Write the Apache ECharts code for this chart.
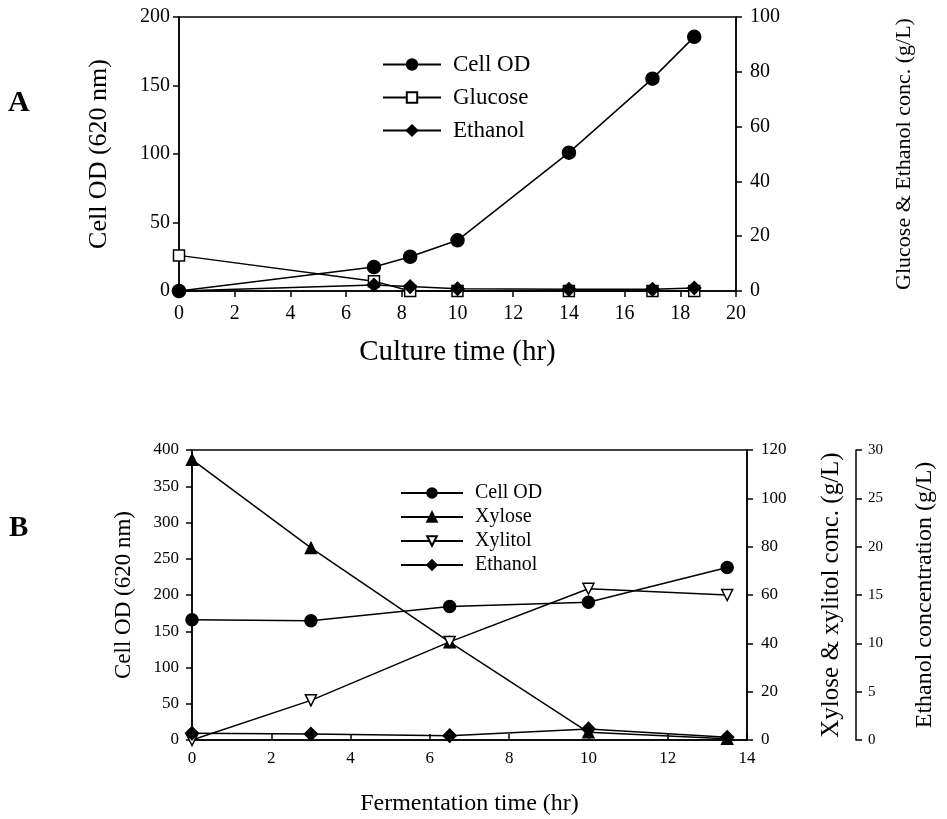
<!DOCTYPE html>
<html><head><meta charset="utf-8">
<script src="https://cdn.jsdelivr.net/npm/echarts@6/dist/echarts.min.js"></script>
<style>html,body{margin:0;padding:0;background:#fff}#c{width:947px;height:819px}</style>
</head><body><div id="c"></div>
<script>
// Panel A data
const aTime = [0, 7, 8.3, 10, 14, 17, 18.5];
const aCellOD = [0, 17.5, 25, 37, 101, 155, 185.5];
const aGlucose = [13, 3.6, 0, 0, 0, 0, 0];
const aEthanol = [0, 2.2, 1.6, 0.8, 0.6, 0.6, 1.1];
// Panel B data
const bTime = [0, 3, 6.5, 10, 13.5];
const bCellOD = [166, 164.5, 184, 190, 238];
const bXylose = [116, 79.5, 40.5, 3.2, 0.5];
const bXylitol = [0, 16.4, 40.6, 62.6, 60];
const bEthanol = [0.7, 0.62, 0.45, 1.15, 0.28];
// tick labels
const aXTicks = [0, 2, 4, 6, 8, 10, 12, 14, 16, 18, 20];
const aLeftTicks = [0, 50, 100, 150, 200];
const aRightTicks = [0, 20, 40, 60, 80, 100];
const bXTicks = [0, 2, 4, 6, 8, 10, 12, 14];
const bLeftTicks = [0, 50, 100, 150, 200, 250, 300, 350, 400];
const bRightTicks = [0, 20, 40, 60, 80, 100, 120];
const bEthTicks = [0, 5, 10, 15, 20, 25, 30];

const F = '"Liberation Serif", "Times New Roman", serif';
const BLK = '#000';

function axis(ticks, o) {
  return Object.assign({
    type: 'value',
    min: ticks[0], max: ticks[ticks.length - 1], interval: ticks[1] - ticks[0],
    splitLine: { show: false },
    axisLine: { show: true, onZero: false, lineStyle: { color: BLK, width: 1.5 } },
    axisTick: { show: true, inside: !!o.tickInside, length: 6, lineStyle: { color: BLK, width: 1.5 } },
    axisLabel: { color: BLK, fontFamily: F, fontSize: o.fs, margin: o.margin || 8, fontWeight: o.fw || 'normal' },
    nameLocation: 'middle',
    nameTextStyle: { color: BLK, fontFamily: F, fontSize: o.nfs },
  }, o.extra);
}

function pairs(xs, ys) { return xs.map((x, i) => [x, ys[i]]); }

function line(name, xi, yi, xs, ys, sym, filled, size, rot) {
  return {
    name, type: 'line', xAxisIndex: xi, yAxisIndex: yi,
    data: pairs(xs, ys),
    symbol: sym, symbolSize: size, symbolRotate: rot || 0, showSymbol: true,
    lineStyle: { color: BLK, width: 1.5 },
    itemStyle: { color: filled ? BLK : '#fff', borderColor: BLK, borderWidth: 1.5 },
    emphasis: { disabled: true }, z: 3
  };
}

const chart = echarts.init(document.getElementById('c'), null, { renderer: 'canvas' });
chart.setOption({
  animation: false,
  backgroundColor: '#fff',
  grid: [
    { left: 179, top: 17, width: 557, height: 274, show: true, borderColor: BLK, borderWidth: 1.5 },
    { left: 192, top: 450, width: 555, height: 290, show: true, borderColor: BLK, borderWidth: 1.5 }
  ],
  xAxis: [
    axis(aXTicks, { fs: 20, nfs: 29, margin: 13, extra: { gridIndex: 0, name: 'Culture time (hr)', nameGap: 47 } }),
    axis(bXTicks, { fs: 17, nfs: 24, margin: 10, tickInside: true, extra: { gridIndex: 1, name: 'Fermentation time (hr)', nameGap: 52 } })
  ],
  yAxis: [
    axis(aLeftTicks, { fs: 20, nfs: 26, margin: 9, extra: { gridIndex: 0, position: 'left', name: 'Cell OD (620 nm)', nameGap: 67 } }),
    axis(aRightTicks, { fs: 20, nfs: 22, margin: 14, extra: { gridIndex: 0, position: 'right', name: 'Glucose & Ethanol conc. (g/L)', nameGap: 157 } }),
    axis(bLeftTicks, { fs: 17, nfs: 23, margin: 13, extra: { gridIndex: 1, position: 'left', name: 'Cell OD (620 nm)', nameGap: 57 } }),
    axis(bRightTicks, { fs: 17, nfs: 25, margin: 14, extra: { gridIndex: 1, position: 'right', name: 'Xylose & xylitol conc. (g/L)', nameGap: 72 } }),
    axis(bEthTicks, { fs: 15, nfs: 24, margin: 12, extra: { gridIndex: 1, position: 'right', offset: 109, name: 'Ethanol concentration (g/L)', nameGap: 57 } })
  ],
  legend: [
    { orient: 'vertical', left: 382, top: 53, padding: 0, itemWidth: 58, itemHeight: 13, itemGap: 10,
      textStyle: { color: BLK, fontFamily: F, fontSize: 23, padding: [0, 0, 0, 7] }, selectedMode: false,
      data: ['Cell OD', 'Glucose', 'Ethanol'] },
    { orient: 'vertical', left: 400, top: 483, padding: 0, itemWidth: 62, itemHeight: 12, itemGap: 4,
      textStyle: { color: BLK, fontFamily: F, fontSize: 20, padding: [0, 0, 0, 7] }, selectedMode: false,
      data: ['Cell OD', 'Xylose', 'Xylitol', 'Ethanol'] }
  ],
  graphic: [
    { type: 'text', left: 8, top: 88, style: { text: 'A', font: 'bold 30px ' + F, fill: BLK } },
    { type: 'text', left: 9, top: 514, style: { text: 'B', font: 'bold 29px ' + F, fill: BLK } }
  ],
  series: [
    line('Cell OD', 0, 0, aTime, aCellOD, 'circle', true, 13),
    line('Glucose', 0, 1, aTime, aGlucose, 'rect', false, 11),
    line('Ethanol', 0, 1, aTime, aEthanol, 'diamond', true, 13),
    line('Cell OD', 1, 2, bTime, bCellOD, 'circle', true, 12),
    line('Xylose', 1, 3, bTime, bXylose, 'triangle', true, 11),
    line('Xylitol', 1, 3, bTime, bXylitol, 'triangle', false, 11, 180),
    line('Ethanol', 1, 4, bTime, bEthanol, 'diamond', true, 13)
  ]
});
</script></body></html>
